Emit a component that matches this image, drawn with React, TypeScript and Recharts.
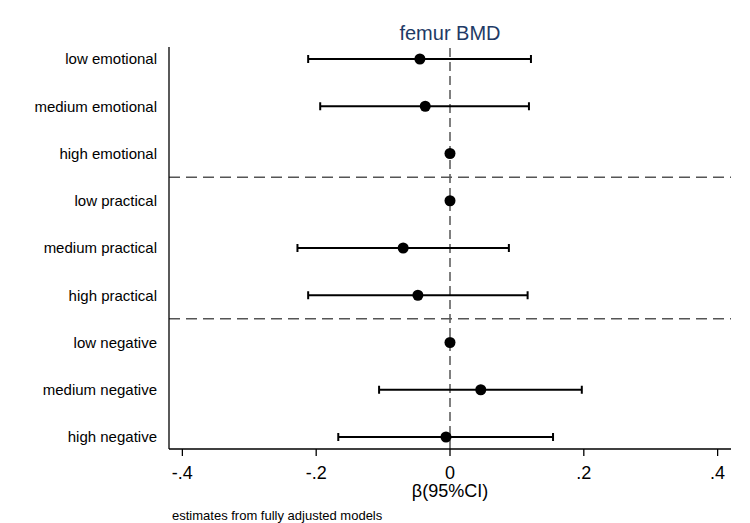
import React from 'react';
import {
  ScatterChart,
  Scatter,
  XAxis,
  YAxis,
  ErrorBar,
  ReferenceLine,
  Customized,
} from 'recharts';

// support categories, top to bottom
const categories = [
  'low emotional',
  'medium emotional',
  'high emotional',
  'low practical',
  'medium practical',
  'high practical',
  'low negative',
  'medium negative',
  'high negative',
];

// point estimates and 95% CI bounds (reference groups sit at 0)
const beta = [-0.045, -0.037, 0, 0, -0.07, -0.048, 0, 0.046, -0.006];
const lower = [-0.212, -0.194, 0, 0, -0.228, -0.212, 0, -0.106, -0.167];
const upper = [0.121, 0.118, 0, 0, 0.088, 0.116, 0, 0.197, 0.154];

const xTicks = [-0.4, -0.2, 0, 0.2, 0.4];
const groupBreaks = [3.5, 6.5];

const FONT = '"Liberation Sans", Arial, Helvetica, sans-serif';

const rows = categories.map((name, i) => ({
  name,
  pos: i + 1,
  beta: beta[i],
  ci: [beta[i] - lower[i], upper[i] - beta[i]],
}));

const fmtX = (v: number) => {
  if (v === 0) return '0';
  const s = Math.abs(v).toString().replace(/^0/, '');
  return v < 0 ? '-' + s : s;
};

const Dot = (props: any) => (
  <circle cx={props.cx} cy={props.cy} r={5.5} fill="#000" />
);

const Annotations = () => (
  <g fontFamily={FONT}>
    <text x={450} y={40} textAnchor="middle" fontSize={20} fill="#1e3a66">
      femur BMD
    </text>
    <text x={450} y={497} textAnchor="middle" fontSize={18} fill="#000">
      β(95%CI)
    </text>
    <text x={172} y={520} fontSize={13} fill="#000">
      estimates from fully adjusted models
    </text>
  </g>
);

const App = () => {
  return (
    <div style={{ position: 'absolute', left: 0, top: 0, background: '#fff' }}>
      <ScatterChart
        width={750}
        height={523}
        margin={{ top: 47, right: 19, bottom: 0, left: 0 }}
      >
        <XAxis
          type="number"
          dataKey="beta"
          domain={[-0.42, 0.42]}
          allowDataOverflow
          ticks={xTicks}
          tickFormatter={fmtX}
          height={74}
          tickSize={7}
          tickMargin={10}
          axisLine={{ stroke: '#000', strokeWidth: 1.3 }}
          tickLine={{ stroke: '#000', strokeWidth: 1.3 }}
          tick={{ fill: '#000', fontSize: 18, fontFamily: FONT }}
        />
        <YAxis
          type="number"
          dataKey="pos"
          domain={[0.746, 9.254]}
          allowDataOverflow
          reversed
          ticks={rows.map((r) => r.pos)}
          tickFormatter={(v: number) => categories[v - 1] ?? ''}
          width={169}
          tickSize={0}
          tickMargin={12}
          tickLine={false}
          axisLine={{ stroke: '#000', strokeWidth: 1.3 }}
          tick={{ fill: '#000', fontSize: 15, fontFamily: FONT }}
        />
        {groupBreaks.map((y) => (
          <ReferenceLine
            key={y}
            y={y}
            stroke="#555"
            strokeWidth={1.5}
            strokeDasharray="11 6"
          />
        ))}
        <ReferenceLine
          x={0}
          stroke="#555"
          strokeWidth={1.5}
          strokeDasharray="9 5"
        />
        <Scatter data={rows} shape={<Dot />} isAnimationActive={false}>
          <ErrorBar
            dataKey="ci"
            direction="x"
            width={4}
            stroke="#000"
            strokeWidth={2}
            isAnimationActive={false}
          />
        </Scatter>
        <Customized component={<Annotations />} />
      </ScatterChart>
    </div>
  );
};

export default App;
